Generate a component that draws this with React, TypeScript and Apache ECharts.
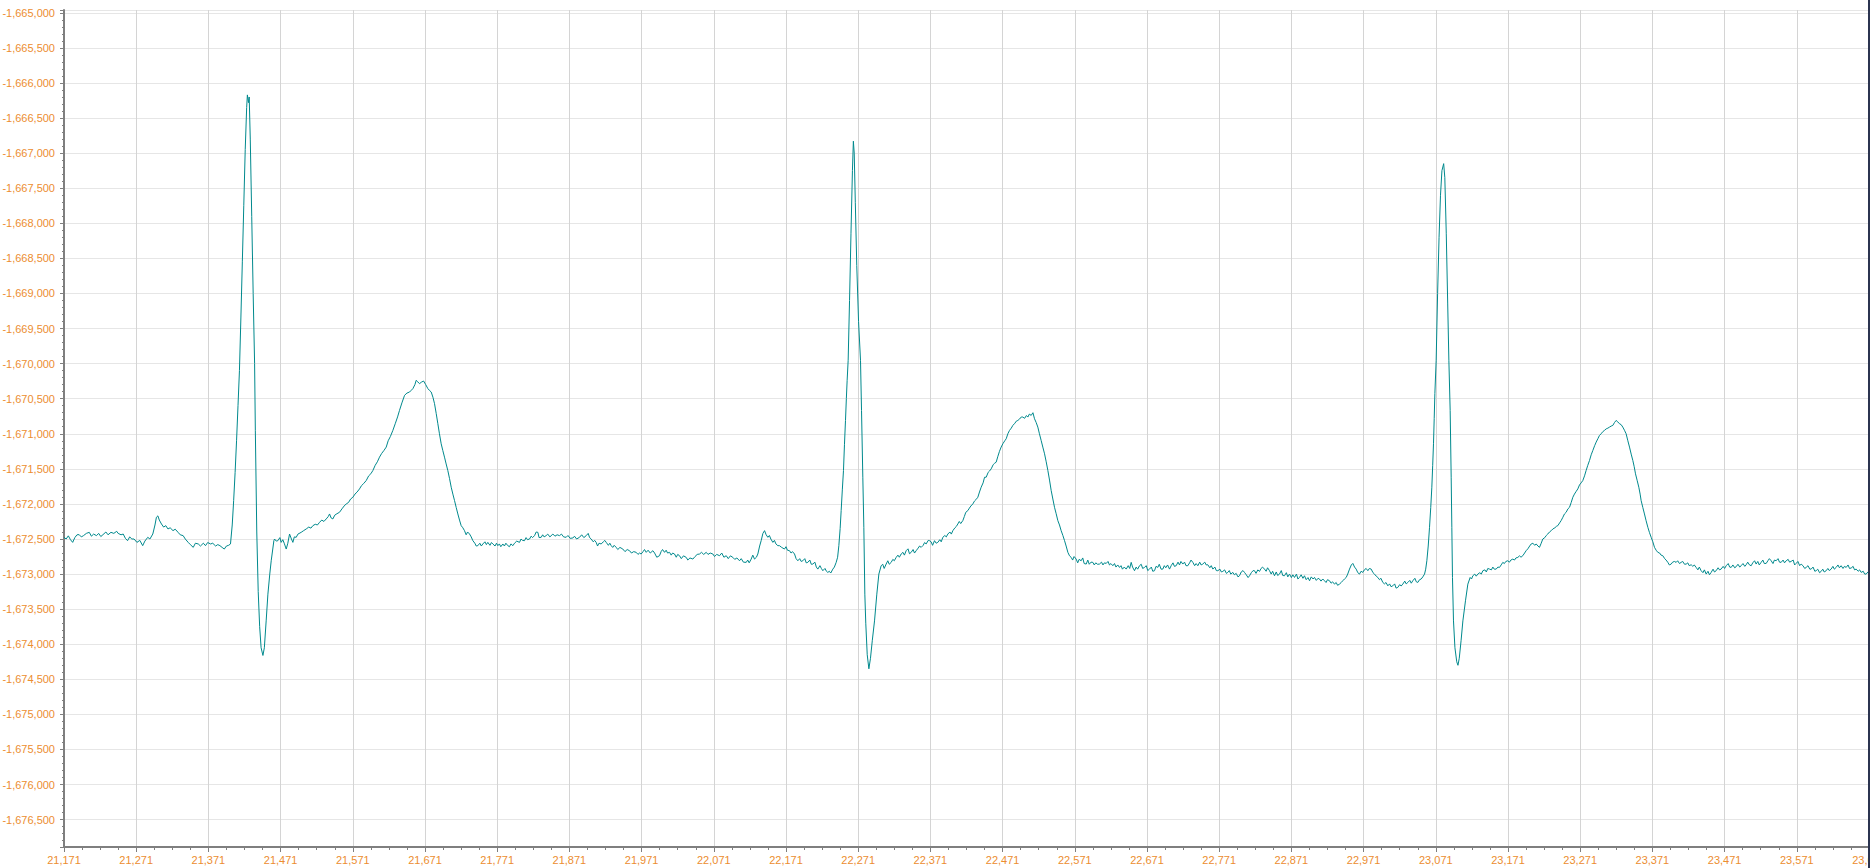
import React, { useEffect, useRef } from "react";
import * as echarts from "echarts";

// Axis ranges (time on x, raw signal on y)
const TIME_MIN = 21171;
const TIME_MAX = 23671;
const TIME_STEP = 100;
const SIGNAL_MIN = -1676890;
const SIGNAL_MAX = -1664960;
const SIGNAL_STEP = 500;

// ECG trace, as [time, value] pairs
const leadIn: number[][] = [
  [21171, -1672476], [21174, -1672500], [21177, -1672455], [21180, -1672510], [21183, -1672548],
  [21186, -1672480], [21189, -1672440], [21192, -1672438], [21195, -1672470], [21198, -1672452],
  [21202, -1672420], [21206, -1672405], [21209, -1672460], [21212, -1672430], [21216, -1672452],
  [21219, -1672420], [21222, -1672465], [21225, -1672438], [21229, -1672400], [21232, -1672440],
  [21236, -1672405], [21240, -1672420], [21244, -1672390], [21246, -1672420], [21250, -1672440],
  [21253, -1672429], [21256, -1672490], [21259, -1672524], [21262, -1672470], [21265, -1672500],
  [21268, -1672500], [21272, -1672548], [21276, -1672520], [21280, -1672595], [21283, -1672530],
  [21287, -1672476], [21290, -1672500], [21294, -1672429], [21297, -1672300], [21299, -1672190],
  [21301, -1672170], [21303, -1672230], [21306, -1672286], [21309, -1672330], [21312, -1672310],
  [21315, -1672357], [21318, -1672340], [21322, -1672381], [21325, -1672360], [21329, -1672405],
  [21332, -1672440], [21336, -1672452], [21339, -1672500], [21343, -1672548], [21346, -1672580],
  [21350, -1672619], [21353, -1672560], [21357, -1672571], [21360, -1672600], [21364, -1672560],
  [21367, -1672595], [21370, -1672550], [21374, -1672571], [21377, -1672560], [21381, -1672600],
  [21384, -1672580], [21387, -1672595], [21390, -1672620], [21393, -1672643], [21396, -1672600],
  [21399, -1672590], [21401.6, -1672571],
];

const beat1Complex: number[][] = [
  [21404, -1672300], [21406, -1671950], [21408, -1671550], [21410, -1671100], [21412, -1670600],
  [21414, -1670100], [21416, -1669350], [21418, -1668550], [21420, -1667750], [21422, -1666950],
  [21424, -1666350], [21425, -1666170], [21426.5, -1666280], [21427.5, -1666200], [21429, -1666800],
  [21431, -1667900], [21433, -1669000], [21435, -1670000], [21436, -1670950], [21438, -1672400],
  [21440, -1673250], [21442, -1673750], [21444, -1674050], [21446.5, -1674160], [21448.5, -1674050],
  [21451, -1673667], [21453.4, -1673286], [21456, -1673000], [21458, -1672810], [21461.7, -1672524],
];

const beat1Recovery: number[][] = [
  [21462.6, -1672500], [21465, -1672530], [21467.2, -1672524], [21470, -1672480], [21471.8, -1672548],
  [21474, -1672510], [21476, -1672560], [21478.8, -1672643], [21481, -1672560], [21483.4, -1672429],
  [21486, -1672500], [21488, -1672548], [21490, -1672470], [21492.6, -1672476], [21495, -1672430],
  [21499.5, -1672405], [21503, -1672380], [21506.5, -1672357], [21510, -1672330], [21513, -1672345],
  [21515.7, -1672310], [21519, -1672290], [21522, -1672300], [21525, -1672262], [21528, -1672230],
  [21531, -1672250], [21534.2, -1672214], [21537, -1672180], [21538.8, -1672143], [21541, -1672200],
  [21543.4, -1672214], [21546, -1672160], [21549, -1672140], [21552.6, -1672119], [21556, -1672070],
  [21559, -1672030], [21561.9, -1672000], [21565, -1671980], [21568, -1671930], [21571.1, -1671905],
  [21574, -1671860], [21577, -1671830], [21580.3, -1671786], [21583, -1671740], [21586, -1671710],
  [21589.6, -1671667], [21593, -1671600], [21596, -1671570], [21598.8, -1671524], [21602, -1671450],
  [21605, -1671400], [21608, -1671333], [21611, -1671280], [21614, -1671240], [21617.3, -1671190],
  [21620, -1671100], [21623, -1671040], [21626.5, -1670952], [21630, -1670850], [21633, -1670760],
  [21635.7, -1670667], [21639, -1670560], [21642.7, -1670452], [21646, -1670420], [21649.6, -1670405],
  [21652, -1670380], [21654.2, -1670357], [21657, -1670300], [21658.8, -1670238], [21661, -1670260],
  [21663.4, -1670286], [21666, -1670265], [21669, -1670248], [21672, -1670300], [21675, -1670357],
  [21677, -1670380], [21679.6, -1670405], [21682, -1670480], [21684.2, -1670571], [21686.5, -1670710],
  [21688.8, -1670857], [21691, -1671000], [21693.4, -1671143], [21695.7, -1671240], [21698, -1671333],
  [21700.3, -1671430], [21702.6, -1671524], [21705, -1671640], [21707.3, -1671762], [21709.6, -1671860],
  [21711.9, -1671952], [21714.2, -1672050], [21716.5, -1672143], [21718.8, -1672230], [21721.1, -1672310],
  [21723.4, -1672340], [21725.7, -1672381], [21728, -1672440], [21730, -1672400], [21732.7, -1672429],
  [21735, -1672470], [21737.3, -1672524], [21740, -1672560], [21742, -1672600], [21744.2, -1672595],
];

const interval1: number[][] = [
  [21747, -1672560], [21749, -1672600], [21751.1, -1672571], [21754, -1672540], [21756, -1672580],
  [21758, -1672548], [21761, -1672590], [21763, -1672550], [21765, -1672571], [21768, -1672600],
  [21770, -1672560], [21771.9, -1672595], [21774, -1672570], [21776, -1672610], [21778.8, -1672571],
  [21781, -1672600], [21783, -1672560], [21785.7, -1672595], [21788, -1672610], [21790, -1672570],
  [21792.7, -1672595], [21795, -1672560], [21798, -1672530], [21801.9, -1672548], [21804, -1672500],
  [21806, -1672520], [21808.8, -1672524], [21811, -1672480], [21813, -1672510], [21815.8, -1672500],
  [21818, -1672460], [21820, -1672480], [21822.7, -1672452], [21825, -1672400], [21827.3, -1672405],
  [21829, -1672480], [21831.9, -1672476], [21834, -1672440], [21836, -1672470], [21838.8, -1672452],
  [21841, -1672430], [21844, -1672470], [21848.1, -1672429], [21851, -1672460], [21854, -1672440],
  [21857.3, -1672452], [21860, -1672430], [21863, -1672470], [21866.5, -1672476], [21869, -1672450],
  [21872, -1672490], [21875.8, -1672486], [21878, -1672460], [21881, -1672500], [21885, -1672476],
  [21888, -1672440], [21891, -1672480], [21894.3, -1672452], [21897, -1672420], [21899, -1672480],
  [21901.2, -1672500], [21904, -1672540], [21906, -1672520], [21908.1, -1672548], [21910, -1672600],
  [21912, -1672560], [21915, -1672571], [21918, -1672540], [21920, -1672520], [21922, -1672548],
  [21925, -1672590], [21927, -1672560], [21928.9, -1672595], [21931, -1672620], [21933, -1672590],
  [21935.8, -1672619], [21938, -1672650], [21941, -1672620], [21945, -1672643], [21948, -1672680],
  [21951, -1672650], [21954.3, -1672667], [21957, -1672700], [21960, -1672680], [21963.5, -1672690],
  [21966, -1672720], [21968, -1672700], [21970.4, -1672714], [21973, -1672680], [21975, -1672650],
  [21977.4, -1672690], [21980, -1672660], [21983, -1672700], [21986.6, -1672667], [21989, -1672700],
  [21992, -1672760], [21995.8, -1672738], [21998, -1672680], [22000, -1672650], [22002.8, -1672690],
  [22005, -1672660], [22007, -1672700], [22009.7, -1672690], [22012, -1672730], [22014, -1672700],
  [22016.6, -1672714], [22019, -1672760], [22021, -1672720], [22023.5, -1672738], [22026, -1672780],
  [22029, -1672740], [22032.8, -1672762], [22035, -1672800], [22038, -1672770], [22042, -1672786],
  [22045, -1672750], [22048, -1672720], [22051.2, -1672714], [22054, -1672690], [22057, -1672720],
  [22060.5, -1672690], [22063, -1672720], [22066, -1672700], [22069.7, -1672714], [22072, -1672750],
  [22075, -1672720], [22079, -1672738], [22082, -1672700], [22085, -1672760], [22088.2, -1672738],
  [22091, -1672780], [22094, -1672740], [22097.4, -1672762], [22100, -1672790], [22103, -1672770],
  [22106.6, -1672810], [22109, -1672780], [22112, -1672830], [22115.9, -1672833], [22118, -1672800],
  [22120, -1672840], [22122.8, -1672786], [22125, -1672730], [22127.4, -1672786], [22130, -1672760],
  [22132, -1672714], [22134.5, -1672600], [22136.6, -1672524], [22139, -1672420], [22141.3, -1672381],
  [22143.5, -1672440], [22145.9, -1672476], [22148, -1672450], [22150, -1672500], [22152.8, -1672548],
  [22155, -1672520], [22157, -1672570], [22159.7, -1672595], [22162, -1672595], [22165, -1672620],
  [22168.9, -1672643], [22171, -1672610], [22173, -1672660], [22175.9, -1672667], [22178, -1672700],
  [22180, -1672680], [22182.8, -1672714], [22185, -1672780], [22187.4, -1672810], [22190, -1672780],
  [22192, -1672820], [22194.3, -1672810], [22197, -1672780], [22199, -1672840], [22201.2, -1672833],
  [22204, -1672800], [22206, -1672860], [22208.2, -1672857], [22211, -1672830], [22213, -1672900],
  [22215.1, -1672929], [22218, -1672880], [22220, -1672920], [22222, -1672952], [22225, -1672920],
  [22227, -1672960], [22228.9, -1672976], [22231, -1672960], [22233, -1672985], [22235.9, -1672929],
  [22238, -1672900], [22240.5, -1672833], [22242.5, -1672760],
];

const beat2Complex: number[][] = [
  [22244.2, -1672595], [22246, -1672350], [22247.4, -1672095], [22249, -1671800], [22250.6, -1671524],
  [22252, -1671150], [22253.4, -1670810], [22254.6, -1670500], [22255.7, -1670238], [22257.1, -1669952],
  [22259, -1669100], [22261, -1668150], [22263, -1667250], [22264.3, -1666830], [22265.5, -1667000],
  [22267, -1667700], [22269, -1668600], [22271.5, -1669400], [22274.2, -1669952], [22275.6, -1670667],
  [22277.4, -1671619], [22278.8, -1672333], [22280.2, -1673286], [22281.5, -1673700], [22283.5, -1674150],
  [22285.8, -1674350], [22288, -1674200], [22290.5, -1673950], [22293.6, -1673667], [22296.8, -1673286],
  [22299.6, -1673000], [22302.8, -1672881],
];

const beat2Recovery: number[][] = [
  [22305, -1672860], [22307, -1672920], [22309.7, -1672857], [22312, -1672810], [22314, -1672860],
  [22316.7, -1672833], [22319, -1672790], [22321, -1672810], [22323.6, -1672762], [22326, -1672730],
  [22328, -1672760], [22330.5, -1672714], [22333, -1672690], [22335, -1672730], [22337.4, -1672667],
  [22340, -1672640], [22342, -1672710], [22344.4, -1672690], [22347, -1672650], [22349, -1672700],
  [22351.3, -1672667], [22354, -1672630], [22356, -1672600], [22358.2, -1672619], [22361, -1672590],
  [22363, -1672550], [22365.1, -1672571], [22368, -1672520], [22369.8, -1672524], [22372, -1672540],
  [22374, -1672590], [22376.7, -1672524], [22379, -1672560], [22381.3, -1672548], [22384, -1672510],
  [22386, -1672540], [22388.2, -1672476], [22391, -1672450], [22393, -1672470], [22395.2, -1672429],
  [22398, -1672400], [22400, -1672430], [22402.1, -1672381], [22405, -1672340], [22407, -1672320],
  [22409, -1672286], [22411, -1672250], [22413, -1672280], [22415.9, -1672238], [22418, -1672180],
  [22420, -1672120], [22422.9, -1672095], [22425, -1672060], [22427, -1672030], [22429.8, -1672000],
  [22432, -1671960], [22434, -1671940], [22436.7, -1671905], [22439, -1671830], [22441.3, -1671762],
  [22444, -1671700], [22446, -1671620], [22448.3, -1671619], [22451, -1671550], [22453, -1671530],
  [22455.2, -1671500], [22458, -1671440], [22460, -1671420], [22462.1, -1671405], [22464.5, -1671320],
  [22466.7, -1671250], [22469, -1671190], [22471.5, -1671140], [22474, -1671100], [22476, -1671071],
  [22478.3, -1671000], [22480.6, -1670952], [22483, -1670920], [22485.2, -1670881], [22488, -1670850],
  [22490, -1670820], [22492.1, -1670810], [22494.5, -1670790], [22497, -1670760], [22499, -1670762],
  [22501.5, -1670780], [22504, -1670740], [22506, -1670762], [22508, -1670720], [22510.6, -1670738],
  [22513, -1670700], [22515.2, -1670786], [22517.5, -1670840], [22519.8, -1670905], [22522, -1671000],
  [22524.4, -1671095], [22526.7, -1671190], [22529.1, -1671286], [22531.4, -1671400], [22533.7, -1671524],
  [22536, -1671660], [22538.3, -1671810], [22540.6, -1671930], [22542.9, -1672048], [22545.2, -1672140],
  [22547.5, -1672238], [22549.8, -1672300], [22552.1, -1672381], [22554.5, -1672450], [22556.8, -1672524],
  [22559, -1672600], [22561.4, -1672690], [22563.7, -1672740], [22566, -1672762], [22568, -1672800],
  [22570, -1672750], [22572.9, -1672786], [22575, -1672840], [22577, -1672790], [22579.8, -1672810],
];

const interval2: number[][] = [
  [22582, -1672770], [22584, -1672850], [22586.8, -1672857], [22589, -1672800], [22591, -1672860],
  [22593.5, -1672830], [22596, -1672833], [22598, -1672870], [22600, -1672840], [22602.5, -1672860],
  [22605.2, -1672857], [22608, -1672830], [22610, -1672870], [22612, -1672840], [22614.5, -1672848],
  [22617, -1672820], [22619, -1672870], [22621, -1672850], [22623.7, -1672881], [22626, -1672850],
  [22628, -1672900], [22630.5, -1672870], [22632.9, -1672905], [22635, -1672880], [22637, -1672930],
  [22639.5, -1672900], [22642.2, -1672929], [22645, -1672880], [22647, -1672920], [22649.1, -1672833],
  [22651, -1672900], [22653.7, -1672952], [22656, -1672900], [22658, -1672930], [22660.6, -1672881],
  [22663, -1672860], [22665, -1672920], [22667.5, -1672905], [22670, -1672880], [22672, -1672950],
  [22674.5, -1672929], [22677, -1672900], [22679, -1672960], [22681.4, -1672952], [22683.5, -1672890],
  [22686, -1672905], [22688, -1672860], [22690.5, -1672930], [22692.9, -1672929], [22695, -1672880],
  [22697, -1672910], [22699.5, -1672870], [22702.2, -1672929], [22704.5, -1672880], [22707, -1672840],
  [22709, -1672890], [22711.4, -1672881], [22714, -1672830], [22716, -1672870], [22718, -1672820],
  [22720.6, -1672857], [22723, -1672830], [22725, -1672880], [22727.5, -1672881], [22730, -1672840],
  [22732, -1672800], [22734.5, -1672833], [22737, -1672880], [22739, -1672850], [22741.4, -1672881],
  [22744, -1672830], [22746, -1672870], [22748.3, -1672857], [22751, -1672830], [22753, -1672870],
  [22755.2, -1672867], [22758, -1672910], [22760, -1672880], [22762.2, -1672929], [22765, -1672900],
  [22767, -1672950], [22769.1, -1672952], [22772, -1672930], [22774, -1672970], [22776, -1672962],
  [22778.5, -1672940], [22781, -1672990], [22782.9, -1672976], [22785, -1672950], [22787, -1673000],
  [22789.9, -1672976], [22792, -1673010], [22794.5, -1672990], [22797, -1673040], [22799.1, -1673024],
  [22801.5, -1672970], [22804, -1672950], [22806, -1672976], [22808.5, -1673010], [22811, -1673050],
  [22813, -1673024], [22815.5, -1672980], [22818, -1672950], [22819.9, -1672952], [22822, -1672990],
  [22824.5, -1672940], [22826.8, -1672962], [22829, -1672920], [22831, -1672900], [22833.7, -1672929],
  [22836, -1672960], [22838, -1672910], [22840.7, -1672952], [22843, -1673000], [22845, -1672960],
  [22847.6, -1673024], [22850, -1672970], [22852, -1673020], [22854.5, -1673000], [22857, -1672950],
  [22859, -1673020], [22861.4, -1673024], [22864, -1672980], [22866, -1673040], [22868.4, -1673000],
  [22871, -1673050], [22873, -1673010], [22875.3, -1673048], [22878, -1673000], [22880, -1673070],
  [22882.2, -1673048], [22884.5, -1673010], [22887, -1673060], [22889.1, -1673024], [22891.5, -1673080],
  [22894, -1673050], [22896.1, -1673095], [22898.5, -1673040], [22901, -1673070], [22903, -1673048],
  [22905.5, -1673090], [22908, -1673060], [22909.9, -1673071], [22912, -1673100], [22914.5, -1673070],
  [22916.8, -1673095], [22919, -1673120], [22921, -1673080], [22923.8, -1673095], [22926, -1673130],
  [22928, -1673110], [22930.7, -1673143], [22933, -1673120], [22935, -1673160], [22937.6, -1673143],
  [22940, -1673120], [22942.2, -1673095], [22944.5, -1673070], [22946.9, -1673048], [22949, -1673000],
  [22951.5, -1672929], [22954, -1672870], [22956.1, -1672848], [22958.5, -1672900], [22960.7, -1672929],
  [22963, -1672980], [22965.3, -1673000], [22967.5, -1672960], [22969.9, -1672976], [22972, -1672940],
  [22974.5, -1672920], [22976.9, -1672952], [22979, -1672920], [22981.5, -1672929], [22984, -1672980],
  [22986.1, -1673000], [22988.5, -1673030], [22990.7, -1673048], [22993, -1673080], [22995, -1673060],
  [22997.6, -1673119], [23000, -1673140], [23002, -1673120], [23004.6, -1673167], [23007, -1673140],
  [23009, -1673180], [23011.5, -1673167], [23014, -1673140], [23016, -1673200], [23018.4, -1673190],
  [23021, -1673150], [23023, -1673170], [23025.3, -1673143], [23028, -1673100], [23030, -1673140],
  [23032.3, -1673119], [23035, -1673090], [23037, -1673130], [23039.2, -1673095], [23042, -1673060],
  [23044, -1673110], [23046.1, -1673119], [23048.5, -1673080], [23050.7, -1673071], [23053, -1673040],
  [23055.4, -1673000], [23057, -1672930],
];

const beat3Complex: number[][] = [
  [23058.6, -1672810], [23060.5, -1672600], [23062.3, -1672333], [23064, -1672050], [23065.5, -1671762],
  [23066.7, -1671450], [23067.8, -1671143], [23068.8, -1670780], [23069.7, -1670429], [23071.5, -1669952],
  [23073.5, -1669000], [23075.5, -1668200], [23077.5, -1667600], [23079.5, -1667250], [23081.9, -1667150],
  [23083.5, -1667350], [23085.5, -1668150], [23087.5, -1669150], [23089.1, -1669952], [23090.9, -1670667],
  [23092.3, -1671619], [23093.2, -1672333], [23094.1, -1673048], [23095.5, -1673667], [23097.5, -1674050],
  [23100, -1674250], [23101.7, -1674300], [23103.5, -1674200], [23106, -1673950], [23108.5, -1673667],
  [23112.1, -1673381], [23115.4, -1673143], [23118.6, -1673048],
];

const beat3Recovery: number[][] = [
  [23120.5, -1673070], [23122.3, -1673024], [23125, -1673000], [23127, -1673030], [23129.2, -1673000],
  [23132, -1672980], [23134, -1673000], [23136.2, -1672952], [23139, -1672940], [23141, -1672970],
  [23143, -1672920], [23145.4, -1672929], [23148, -1672940], [23150, -1672900], [23152, -1672930],
  [23154.6, -1672929], [23157, -1672900], [23159.2, -1672905], [23161.5, -1672870], [23163.8, -1672833],
  [23166, -1672850], [23168, -1672820], [23170.7, -1672810], [23173, -1672830], [23175, -1672800],
  [23177.7, -1672786], [23180, -1672800], [23182, -1672770], [23184.6, -1672762], [23187, -1672740],
  [23189, -1672760], [23191.5, -1672738], [23194, -1672700], [23196.1, -1672667], [23198.5, -1672640],
  [23201, -1672600], [23203.1, -1672571], [23205.5, -1672560], [23208, -1672590], [23210, -1672571],
  [23212.5, -1672600], [23214.6, -1672619], [23217, -1672560], [23219.2, -1672500], [23222, -1672480],
  [23224, -1672450], [23226.1, -1672429], [23228.5, -1672400], [23231, -1672380], [23233.1, -1672357],
  [23236, -1672340], [23238, -1672320], [23240, -1672310], [23242.5, -1672270], [23244.6, -1672238],
  [23247, -1672190], [23249.2, -1672143], [23251.5, -1672120], [23254, -1672070], [23256.2, -1672048],
  [23258.5, -1671980], [23260.8, -1671905], [23263, -1671860], [23265.5, -1671820], [23267.7, -1671786],
  [23270, -1671730], [23272.3, -1671700], [23274.6, -1671667], [23277, -1671600], [23279.2, -1671524],
  [23281.5, -1671450], [23283.9, -1671381], [23286.2, -1671300], [23288.5, -1671238], [23291, -1671170],
  [23293.1, -1671119], [23295.5, -1671070], [23297.7, -1671024], [23300, -1671000], [23302.3, -1670970],
  [23304.6, -1670952], [23307, -1670930], [23309.3, -1670920], [23311.6, -1670905], [23314, -1670890],
  [23316.2, -1670881], [23318.5, -1670840], [23320.8, -1670810], [23323, -1670830], [23325.4, -1670857],
  [23327.7, -1670870], [23330, -1670905], [23332.3, -1670950], [23334.6, -1671000], [23337, -1671100],
  [23339.3, -1671190], [23341.6, -1671290], [23343.9, -1671381], [23345.8, -1671470], [23347.6, -1671571],
  [23350, -1671670], [23352.2, -1671762], [23354, -1671860], [23355.4, -1671952], [23357.7, -1672050],
  [23360, -1672143], [23362.3, -1672240], [23364.7, -1672333], [23367, -1672410], [23369.3, -1672476],
  [23371.6, -1672540], [23373.9, -1672619], [23376.2, -1672660], [23378.5, -1672690], [23381, -1672700],
  [23383, -1672730], [23385.4, -1672738], [23388, -1672780], [23390, -1672800], [23392.4, -1672833],
  [23394.5, -1672870],
];

const trailOut: number[][] = [
  [23397, -1672857], [23399, -1672830], [23401.5, -1672820], [23403.9, -1672833], [23406, -1672810],
  [23408.5, -1672850], [23410.8, -1672833], [23413, -1672820], [23415.5, -1672860], [23417.8, -1672857],
  [23420, -1672840], [23422, -1672880], [23424.7, -1672867], [23427, -1672890], [23429, -1672870],
  [23431.6, -1672905], [23434, -1672940], [23436, -1672900], [23438.5, -1672952], [23441, -1672980],
  [23443, -1672940], [23445.5, -1673000], [23448, -1672960], [23450, -1673010], [23452.4, -1672976],
  [23455, -1672930], [23457, -1672970], [23459.3, -1672952], [23462, -1672910], [23464, -1672940],
  [23466.2, -1672929], [23469, -1672890], [23471, -1672920], [23473.2, -1672881], [23476, -1672850],
  [23478, -1672900], [23480.1, -1672905], [23482.5, -1672870], [23485, -1672910], [23487, -1672895],
  [23489.5, -1672860], [23492, -1672900], [23493.9, -1672881], [23496.5, -1672850], [23499, -1672890],
  [23500.9, -1672867], [23503, -1672830], [23505.5, -1672870], [23507.8, -1672881], [23510, -1672840],
  [23512.5, -1672810], [23514.7, -1672857], [23517, -1672820], [23519, -1672870], [23521.6, -1672833],
  [23524, -1672800], [23526, -1672850], [23528.6, -1672848], [23531, -1672810], [23533, -1672780],
  [23535.5, -1672810], [23538, -1672850], [23540, -1672800], [23542.4, -1672810], [23545, -1672780],
  [23547, -1672830], [23549.3, -1672833], [23552, -1672800], [23554, -1672840], [23556.3, -1672810],
  [23559, -1672790], [23561, -1672830], [23563.2, -1672819], [23566, -1672800], [23568, -1672870],
  [23570.1, -1672848], [23572.5, -1672820], [23575, -1672880], [23577, -1672857], [23579.5, -1672880],
  [23582, -1672920], [23584, -1672905], [23586.5, -1672880], [23589, -1672930], [23590.9, -1672929],
  [23593.5, -1672900], [23596, -1672960], [23597.8, -1672952], [23600, -1672930], [23602.5, -1672980],
  [23604.7, -1672962], [23607, -1672930], [23609, -1672970], [23611.7, -1672952], [23614, -1672920],
  [23616, -1672950], [23618.6, -1672929], [23621, -1672890], [23623, -1672930], [23625.5, -1672905],
  [23628, -1672870], [23630, -1672910], [23632.4, -1672881], [23635, -1672920], [23637, -1672890],
  [23639.4, -1672905], [23642, -1672870], [23644, -1672920], [23646.3, -1672914], [23649, -1672890],
  [23651, -1672940], [23653.2, -1672929], [23656, -1672960], [23658, -1672940], [23660.2, -1672976],
  [23663, -1672960], [23665, -1673000], [23667.1, -1673000], [23669.5, -1672970], [23671.7, -1672976],
];

const ecgSignal: number[][] = [
  ...leadIn, ...beat1Complex, ...beat1Recovery, ...interval1,
  ...beat2Complex, ...beat2Recovery, ...interval2,
  ...beat3Complex, ...beat3Recovery, ...trailOut,
];

const LABEL_COLOR = "#ec8d30";
const AXIS_COLOR = "#7f7f7f";
const TRACE_COLOR = "#00898d";
const FONT = "'Liberation Sans', Arial, sans-serif";

const fmt = (v: number) => Math.round(v).toLocaleString("en-US");

export default function App() {
  const ref = useRef<HTMLDivElement>(null);

  useEffect(() => {
    if (!ref.current) return;
    const chart = echarts.init(ref.current, null, { renderer: "svg" });
    chart.setOption({
      animation: false,
      backgroundColor: "#ffffff",
      grid: {
        left: 64,
        right: 1,
        top: 10,
        bottom: 21,
        containLabel: false,
        outerBoundsMode: "none",
      },
      xAxis: {
        type: "value",
        min: TIME_MIN,
        max: TIME_MAX,
        interval: TIME_STEP,
        axisLine: { show: true, onZero: false, lineStyle: { color: AXIS_COLOR, width: 2 } },
        axisTick: { show: true, length: 5, lineStyle: { color: AXIS_COLOR, width: 1 } },
        minorTick: { show: true, splitNumber: 4, length: 3, lineStyle: { color: AXIS_COLOR, width: 1 } },
        axisLabel: {
          color: LABEL_COLOR,
          fontSize: 11,
          fontFamily: FONT,
          margin: 7,
          hideOverlap: false,
          showMinLabel: true,
          showMaxLabel: true,
          formatter: (v: number) => fmt(v),
        },
        splitLine: { show: true, lineStyle: { color: "#d4d4d4", width: 1 } },
      },
      yAxis: {
        type: "value",
        min: SIGNAL_MIN,
        max: SIGNAL_MAX,
        splitNumber: 24,
        minInterval: SIGNAL_STEP,
        maxInterval: SIGNAL_STEP,
        axisLine: { show: true, onZero: false, lineStyle: { color: AXIS_COLOR, width: 2 } },
        axisTick: { show: true, length: 4, lineStyle: { color: AXIS_COLOR, width: 1 } },
        minorTick: { show: true, splitNumber: 5, length: 2, lineStyle: { color: AXIS_COLOR, width: 1 } },
        axisLabel: {
          color: LABEL_COLOR,
          fontSize: 11,
          fontFamily: FONT,
          margin: 9,
          showMinLabel: false,
          showMaxLabel: false,
          formatter: (v: number) => fmt(v),
        },
        splitLine: { show: true, lineStyle: { color: "#e6e6e6", width: 1 } },
      },
      graphic: [
        {
          type: "rect",
          right: 0,
          top: 0,
          shape: { width: 2, height: 868 },
          style: { fill: "#2b3450" },
          silent: true,
          z: 100,
        },
      ],
      series: [
        {
          type: "line",
          data: ecgSignal,
          symbol: "none",
          showSymbol: false,
          smooth: false,
          lineStyle: { color: TRACE_COLOR, width: 1 },
          emphasis: { disabled: true },
        },
      ],
    });
    return () => chart.dispose();
  }, []);

  return (
    <div
      ref={ref}
      style={{ position: "fixed", left: 0, top: 0, width: "1870px", height: "868px", background: "#fff" }}
    />
  );
}
